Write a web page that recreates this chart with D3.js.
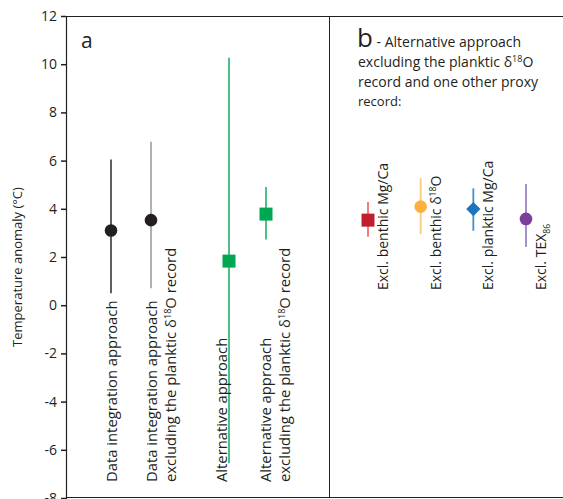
<!DOCTYPE html>
<html><head><meta charset="utf-8">
<script src="https://cdn.jsdelivr.net/npm/d3@7"></script>
<style>
body{margin:0;background:#fff;}
text{font-family:"Open Sans","Noto Sans",sans-serif;fill:#231f20;}
</style></head>
<body><svg id="c" width="563" height="499"></svg>
<script>
// Panel a data
const catsA = ["Data integration approach", "Data integration approach|excluding the planktic δ18O record", "Alternative approach", "Alternative approach|excluding the planktic δ18O record"];
const valA = [3.1, 3.53, 1.83, 3.78];
const lowA = [0.5, 0.7, -6.56, 2.73];
const highA = [6.05, 6.78, 10.27, 4.9];
const markA = ["circle", "circle", "square", "square"];
const markColA = ["#231f20", "#231f20", "#00a651", "#00a651"];
const lineColA = ["#4d4d4d", "#a7a9ac", "#3cb878", "#3cb878"];
// Panel b data
const catsB = ["Excl. benthic Mg/Ca", "Excl. benthic δ18O", "Excl. planktic Mg/Ca", "Excl. TEX86"];
const valB = [3.53, 4.09, 3.99, 3.58];
const lowB = [2.84, 2.95, 3.09, 2.42];
const highB = [4.28, 5.27, 4.85, 5.03];
const markB = ["square", "circle", "diamond", "circle"];
const markColB = ["#be1e2d", "#fbb040", "#1c75bc", "#7b3f98"];
const lineColB = ["#ef6f6c", "#fdc97a", "#3f8fd2", "#9e84c4"];
const yTicks = [12, 10, 8, 6, 4, 2, 0, -2, -4, -6, -8];

const svg = d3.select("#c");
const y = d3.scaleLinear().domain([-8, 12]).range([498, 16]);
const xA = d3.scaleOrdinal().domain(catsA).range([111, 151, 229, 266]);
const labelShiftA = d3.scaleOrdinal().domain(catsA).range([6, 6, -2, 4.5]);
const xB = d3.scalePoint().domain(catsB).range([368, 526]);

// frame
svg.append("line").attr("x1", 66).attr("x2", 563).attr("y1", 16.5).attr("y2", 16.5).attr("stroke", "#231f20").attr("stroke-width", 1.2);
svg.append("line").attr("x1", 66).attr("x2", 563).attr("y1", 497.5).attr("y2", 497.5).attr("stroke", "#231f20").attr("stroke-width", 1.2);
svg.append("line").attr("x1", 329.5).attr("x2", 329.5).attr("y1", 16).attr("y2", 498).attr("stroke", "#231f20").attr("stroke-width", 1);

// y axis
const ax = svg.append("g").attr("transform", "translate(66,0)")
  .call(d3.axisLeft(y).tickValues(yTicks).tickSize(5).tickPadding(4).tickFormat(d => String(d)));
ax.select(".domain").attr("stroke", "#231f20").attr("stroke-width", 1.2);
ax.selectAll(".tick line").attr("stroke", "#231f20").attr("stroke-width", 1.5);
ax.selectAll(".tick text").style("font-size", "14px").style("font-family", "Open Sans, sans-serif").attr("fill", "#231f20");

svg.append("text").attr("transform", "translate(22,267) rotate(-90)").attr("text-anchor", "middle")
  .style("font-size", "13px").text("Temperature anomaly (°C)");

svg.append("text").attr("x", 81).attr("y", 48).style("font-size", "21px").text("a");

// panel b title
const tb = svg.append("text").attr("x", 357).attr("y", 47);
tb.append("tspan").style("font-size", "26px").text("b");
tb.append("tspan").style("font-size", "14px").text(" - Alternative approach");
const t2 = svg.append("text").attr("x", 358).attr("y", 67).style("font-size", "14px");
t2.append("tspan").text("excluding the planktic δ");
t2.append("tspan").attr("dy", -5).style("font-size", "9px").text("18");
t2.append("tspan").attr("dy", 5).text("O");
svg.append("text").attr("x", 358).attr("y", 87).style("font-size", "14px").text("record and one other proxy");
svg.append("text").attr("x", 358).attr("y", 106).style("font-size", "13px").text("record:");

function marker(g, type, cx, cy, col) {
  if (type === "circle") g.append("circle").attr("cx", cx).attr("cy", cy).attr("r", 6.3).attr("fill", col);
  else if (type === "square") g.append("rect").attr("x", cx - 6.5).attr("y", cy - 6.5).attr("width", 13).attr("height", 13).attr("fill", col);
  else g.append("path").attr("d", d3.symbol(d3.symbolDiamond2, 130)()).attr("transform", `translate(${cx},${cy})`).attr("fill", col);
}

// write a label with δ18O superscript / TEX86 subscript
function richText(sel, str) {
  const re = /(δ18O|TEX86)/;
  str.split(re).forEach(part => {
    if (part === "δ18O") {
      sel.append("tspan").text("δ");
      sel.append("tspan").attr("dy", -5).style("font-size", "0.62em").text("18");
      sel.append("tspan").attr("dy", 5).text("O");
    } else if (part === "TEX86") {
      sel.append("tspan").text("TEX");
      sel.append("tspan").attr("dy", 4).style("font-size", "0.62em").text("86");
      sel.append("tspan").attr("dy", -4).text("");
    } else if (part) sel.append("tspan").text(part);
  });
}

// panel a marks
const ga = svg.append("g");
catsA.forEach((c, i) => {
  const x = xA(c);
  ga.append("line").attr("x1", x).attr("x2", x).attr("y1", y(lowA[i])).attr("y2", y(highA[i]))
    .attr("stroke", lineColA[i]).attr("stroke-width", 1.8);
  marker(ga, markA[i], x, y(valA[i]), markColA[i]);
  const lines = c.split("|");
  lines.forEach((ln, j) => {
    const t = ga.append("text").attr("transform", `translate(${x + labelShiftA(c) + j * 19},482) rotate(-90)`)
      .style("font-size", "14.8px");
    richText(t, ln);
  });
});

// panel b marks
const gb = svg.append("g");
catsB.forEach((c, i) => {
  const x = xB(c);
  gb.append("line").attr("x1", x).attr("x2", x).attr("y1", y(lowB[i])).attr("y2", y(highB[i]))
    .attr("stroke", lineColB[i]).attr("stroke-width", 1.8);
  marker(gb, markB[i], x, y(valB[i]), markColB[i]);
  const t = gb.append("text").attr("transform", `translate(${x + 20},290) rotate(-90)`).style("font-size", "14px");
  richText(t, c);
});
</script></body></html>
